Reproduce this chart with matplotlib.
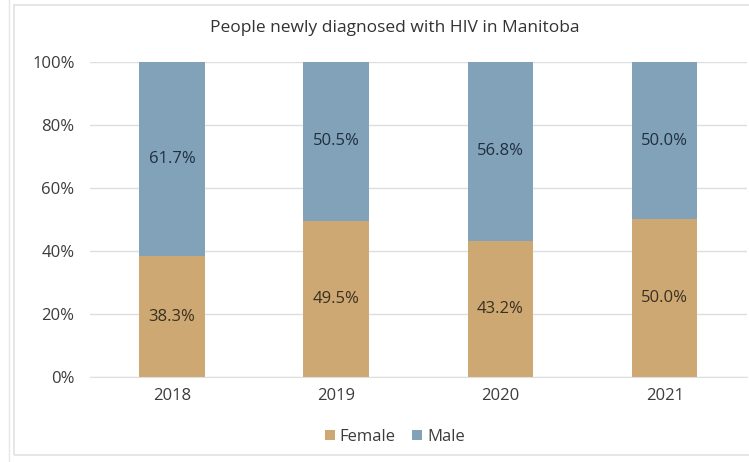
import matplotlib.pyplot as plt
from matplotlib.patches import Rectangle
from matplotlib.lines import Line2D

plt.rcParams['font.family'] = ['Open Sans', 'DejaVu Sans']

years = ['2018', '2019', '2020', '2021']
female = [38.3, 49.5, 43.2, 50.0]
male = [61.7, 50.5, 56.8, 50.0]

female_color = '#CDA873'
male_color = '#82A2BA'

fig = plt.figure(figsize=(7.49, 4.62), dpi=100)
ax = fig.add_axes([0.120, 0.184, 0.877, 0.682])

# outer chart frame
fig.patches.append(Rectangle((14 / 749, 7 / 462), 740 / 749, 450 / 462,
                             transform=fig.transFigure, fill=False,
                             edgecolor='#e2e2e2', linewidth=1.2))
fig.lines.append(Line2D([9 / 749, 9 / 749], [0, 1], transform=fig.transFigure,
                        color='#e6e6e6', linewidth=1.0))

x = range(len(years))
bars_f = ax.bar(x, female, width=0.4, color=female_color, zorder=2)
bars_m = ax.bar(x, male, width=0.4, bottom=female, color=male_color, zorder=2)

for i in x:
    ax.text(i, female[i] / 2, f'{female[i]:.1f}%', ha='center', va='center',
            fontsize=12, color='#3a3020')
    ax.text(i, female[i] + male[i] / 2, f'{male[i]:.1f}%', ha='center', va='center',
            fontsize=12, color='#1f2f40')

ax.set_xlim(-0.5, 3.5)
ax.set_ylim(0, 100)
ax.set_yticks(range(0, 101, 20))
ax.set_yticklabels([f'{v}%' for v in range(0, 101, 20)])
ax.set_xticks(list(x))
ax.set_xticklabels(years)
ax.yaxis.grid(True, color='#dedede', linewidth=1.0, zorder=0)
ax.set_axisbelow(True)
for s in ['top', 'right', 'left']:
    ax.spines[s].set_visible(False)
ax.spines['bottom'].set_color('#dedede')
ax.tick_params(axis='both', length=0, labelsize=12, colors='#3c3c3c')
ax.tick_params(axis='y', pad=11)
ax.tick_params(axis='x', pad=8)

fig.text(0.527, 0.939, 'People newly diagnosed with HIV in Manitoba',
         ha='center', va='center', fontsize=12.5, color='#333333')

fig.legend([bars_f, bars_m], ['Female', 'Male'], loc='center',
           bbox_to_anchor=(0.527, 0.054), ncol=2, frameon=False,
           fontsize=12, handlelength=0.6, handleheight=0.6,
           handletextpad=0.3, columnspacing=1.0, labelcolor='#3c3c3c')

fig.savefig('out.png', dpi=100)
